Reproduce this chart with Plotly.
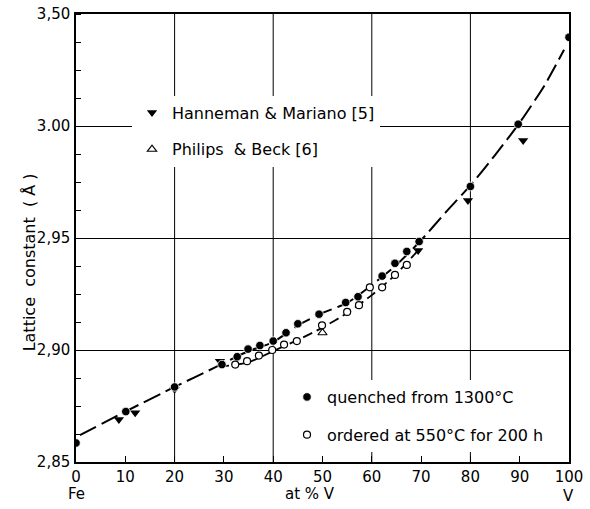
import plotly.graph_objects as go

# ---- data ----
quench_x = [0, 10.1, 20, 29.6, 32.7, 34.9, 37.3, 40.0, 42.6, 45.0, 49.3, 54.7, 57.2,
            62.1, 64.7, 67.1, 69.6, 80, 89.7, 100]
quench_y = [2.8585, 2.8725, 2.8835, 2.8935, 2.897, 2.9004, 2.902, 2.904, 2.9077, 2.9117,
            2.916, 2.9212, 2.9238, 2.933, 2.9387, 2.944, 2.9484, 2.973, 3.0008, 3.0396]

ordered_x = [32.3, 34.7, 37.1, 39.8, 42.2, 44.8, 49.9, 55.0, 57.4, 59.6, 62.1, 64.7, 67.1]
ordered_y = [2.8935, 2.895, 2.8975, 2.900, 2.9024, 2.904, 2.911, 2.917, 2.920, 2.928,
             2.928, 2.9335, 2.938]

hm_x = [8.7, 12.0, 20.0, 29.2, 69.4, 79.5, 90.7]
hm_y = [2.869, 2.872, 2.8825, 2.895, 2.9444, 2.9667, 2.9935]

pb_x = [50.0]
pb_y = [2.9077]

main_curve_x = [0.8, 10, 20, 28, 35, 40, 45, 50, 55, 60, 65, 70, 75, 80, 85, 90, 95, 99]
main_curve_y = [2.862, 2.8725, 2.8835, 2.892, 2.8995, 2.9035, 2.911, 2.9165, 2.921, 2.929,
                2.938, 2.949, 2.9615, 2.9735, 2.987, 3.0015, 3.018, 3.034]

lower_curve_x = [29, 35, 40, 45, 50, 55, 60, 65, 70]
lower_curve_y = [2.8925, 2.8945, 2.8995, 2.9045, 2.910, 2.9165, 2.9245, 2.934, 2.946]

x_ticks = [0, 10, 20, 30, 40, 50, 60, 70, 80, 90, 100]
x_grid = [20, 40, 60, 80]
y_ticks = [2.85, 2.90, 2.95, 3.00, 3.05]
y_ticktext = ["2,85", "2,90", "2,95", "3.00", "3,50"]

FONT = "DejaVu Sans"

fig = go.Figure()

fig.add_trace(go.Scatter(x=main_curve_x, y=main_curve_y, mode="lines", showlegend=False,
                         line=dict(color="black", width=2, dash="18px,6px", shape="spline",
                                   smoothing=0.6)))
fig.add_trace(go.Scatter(x=lower_curve_x, y=lower_curve_y, mode="lines", showlegend=False,
                         line=dict(color="black", width=1.8, dash="10px,5px", shape="spline",
                                   smoothing=0.6)))

fig.add_trace(go.Scatter(x=hm_x, y=hm_y, mode="markers", name="Hanneman & Mariano [5]",
                         legend="legend", legendgroup="a",
                         marker=dict(symbol="triangle-down", size=9, color="black")))
fig.add_trace(go.Scatter(x=pb_x, y=pb_y, mode="markers", name="Philips  & Beck [6]",
                         legend="legend", legendgroup="b",
                         marker=dict(symbol="triangle-up-open", size=8, color="black",
                                     line=dict(width=1.2))))
fig.add_trace(go.Scatter(x=quench_x, y=quench_y, mode="markers", name="quenched from 1300°C",
                         legend="legend2", legendgroup="c",
                         marker=dict(symbol="circle", size=8.5, color="black",
                                     line=dict(color="white", width=0.8))))
fig.add_trace(go.Scatter(x=ordered_x, y=ordered_y, mode="markers",
                         name="ordered at 550°C for 200 h",
                         legend="legend2", legendgroup="d",
                         marker=dict(symbol="circle", size=7, color="white",
                                     line=dict(color="black", width=1.2))))

for gx in x_grid:
    fig.add_shape(type="line", xref="x", yref="y", x0=gx, x1=gx, y0=2.85, y1=3.05,
                  line=dict(color="black", width=1), layer="below")

fig.update_xaxes(range=[0, 100], tickvals=x_ticks, ticks="inside", ticklen=6,
                 tickcolor="black", showgrid=False, zeroline=False, automargin=False,
                 showline=True, linecolor="black", linewidth=1.5, mirror=True,
                 tickfont=dict(family=FONT, size=15, color="black"))
fig.update_yaxes(range=[2.85, 3.05], tickvals=y_ticks, ticktext=y_ticktext, ticks="",
                 showgrid=True, gridcolor="black", gridwidth=1, zeroline=False,
                 automargin=False, ticklabelstandoff=1,
                 showline=True, linecolor="black", linewidth=1.5, mirror=True,
                 minor=dict(dtick=0.0125, tick0=2.85, ticks="inside", ticklen=5,
                            tickcolor="black", showgrid=False),
                 tickfont=dict(family=FONT, size=15, color="black"))

fig.add_annotation(text="Lattice  constant  ( Å )", xref="paper", yref="paper",
                   x=-0.095, y=0.446, textangle=-90, showarrow=False,
                   xanchor="center", yanchor="middle",
                   font=dict(family=FONT, size=16, color="black"))
fig.add_annotation(text="Fe", xref="paper", yref="paper", x=0.0, y=-0.072,
                   xanchor="center", yanchor="middle",
                   showarrow=False, font=dict(family=FONT, size=15, color="black"))
fig.add_annotation(text="at % V", xref="paper", yref="paper", x=0.475, y=-0.072,
                   xanchor="center", yanchor="middle",
                   showarrow=False, font=dict(family=FONT, size=15, color="black"))
fig.add_annotation(text="V", xref="paper", yref="paper", x=0.998, y=-0.076,
                   xanchor="center", yanchor="middle",
                   showarrow=False, font=dict(family=FONT, size=15, color="black"))

fig.update_layout(
    width=590, height=509,
    margin=dict(l=76, r=21, t=14, b=47, autoexpand=False),
    paper_bgcolor="white", plot_bgcolor="white",
    font=dict(family=FONT, size=15, color="black"),
    legend=dict(x=0.1136, y=0.818, xanchor="left", yanchor="top", bgcolor="white",
                font=dict(family=FONT, size=16, color="black"), tracegroupgap=13,
                borderwidth=0),
    legend2=dict(x=0.428, y=0.183, xanchor="left", yanchor="top", bgcolor="white",
                 font=dict(family=FONT, size=16, color="black"), tracegroupgap=14,
                 borderwidth=0),
)

fig.write_html("out.html", config={"displayModeBar": False},
               post_script="document.body.style.margin='0';"
               "document.body.style.padding='0';")
